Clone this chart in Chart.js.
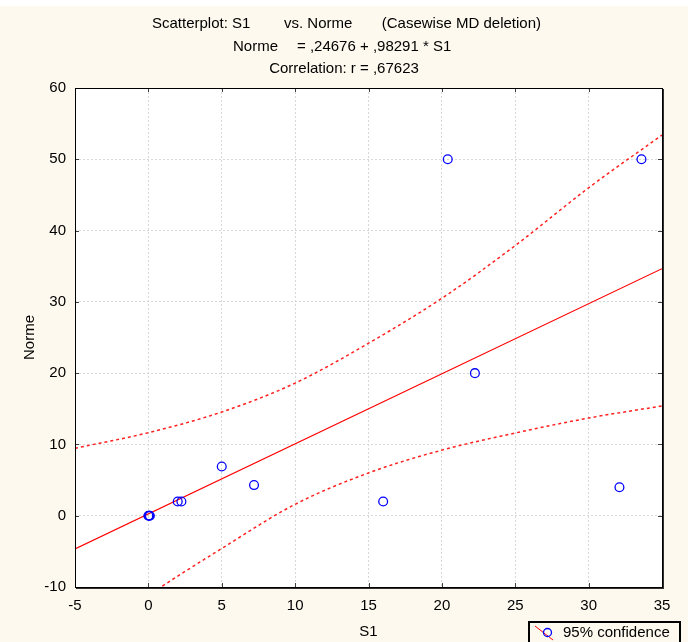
<!DOCTYPE html>
<html>
<head>
<meta charset="utf-8">
<script src="https://cdn.jsdelivr.net/npm/chart.js@4.4.1/dist/chart.umd.min.js"></script>
<style>
html,body{margin:0;padding:0;background:#ffffff;}
#c{display:block;}
</style>
</head>
<body>
<canvas id="c" width="688" height="642"></canvas>
<script>
// ---- data ----
const pointsX = [0, 0.05, 0.1, 2.0, 2.25, 5.0, 7.2, 16.0, 20.4, 22.25, 32.1, 33.6];
const pointsY = [0, 0, 0, 2, 2, 6.9, 4.3, 2, 50, 20, 4, 50];

const fitX = [-5, 35];
const fitY = [-4.67, 34.65];

const bandX = [-5, 0, 5, 10, 15, 20, 25, 30, 35];
const upperY = [9.46, 11.65, 14.55, 18.6, 24.2, 30.5, 37.9, 46.0, 53.4];
const lowerY = [-18.8, -11.2, -4.6, 1.6, 6.0, 9.2, 11.6, 13.7, 15.4];

const xTicks = [-5, 0, 5, 10, 15, 20, 25, 30, 35];
const yTicks = [-10, 0, 10, 20, 30, 40, 50, 60];

const titleLine1a = "Scatterplot: S1";
const titleLine1b = "vs. Norme";
const titleLine1c = "(Casewise MD deletion)";
const titleLine2a = "Norme";
const titleLine2b = "= ,24676 + ,98291 * S1";
const titleLine3 = "Correlation: r = ,67623";
const xTitle = "S1";
const yTitle = "Norme";
const legendText = "95% confidence";

const FONT = "'Liberation Sans', Arial, sans-serif";
const zip = (xs, ys) => xs.map((x, i) => ({x: x, y: ys[i]}));

const decor = {
  id: 'decor',
  beforeDraw(chart) {
    const ctx = chart.ctx, a = chart.chartArea;
    ctx.save();
    ctx.fillStyle = '#ffffff';
    ctx.fillRect(0, 0, chart.width, chart.height);
    ctx.fillStyle = '#fdf9ee';
    ctx.fillRect(0, 6, chart.width, chart.height - 6);
    ctx.fillStyle = '#ffffff';
    ctx.fillRect(a.left, a.top, a.right - a.left, a.bottom - a.top);
    ctx.restore();
  },
  afterDraw(chart) {
    const ctx = chart.ctx, a = chart.chartArea;
    const xs = chart.scales.x, ys = chart.scales.y;
    ctx.save();
    // inner ticks
    ctx.strokeStyle = '#404040';
    ctx.lineWidth = 1;
    ctx.beginPath();
    xTicks.forEach(v => {
      const px = Math.round(xs.getPixelForValue(v)) + 0.5;
      ctx.moveTo(px, a.bottom); ctx.lineTo(px, a.bottom - 4);
      ctx.moveTo(px, a.top); ctx.lineTo(px, a.top + 4);
    });
    yTicks.forEach(v => {
      const py = Math.round(ys.getPixelForValue(v)) + 0.5;
      ctx.moveTo(a.left, py); ctx.lineTo(a.left + 4, py);
      ctx.moveTo(a.right, py); ctx.lineTo(a.right - 4, py);
    });
    ctx.stroke();
    // frame
    ctx.strokeStyle = '#000000';
    ctx.lineWidth = 1;
    ctx.strokeRect(a.left + 0.5, a.top + 0.5, a.right - a.left, a.bottom - a.top);
    ctx.strokeStyle = '#303030';
    ctx.beginPath();
    ctx.moveTo(a.right + 1.5, a.top + 1); ctx.lineTo(a.right + 1.5, a.bottom + 2);
    ctx.moveTo(a.left + 1, a.bottom + 1.5); ctx.lineTo(a.right + 2, a.bottom + 1.5);
    ctx.stroke();

    // titles
    ctx.fillStyle = '#000000';
    ctx.font = '15px ' + FONT;
    ctx.textBaseline = 'middle';
    ctx.textAlign = 'left';
    ctx.fillText(titleLine1a, 152, 24);
    ctx.fillText(titleLine1b, 284, 24);
    ctx.textAlign = 'right';
    ctx.fillText(titleLine1c, 541, 24);
    ctx.textAlign = 'left';
    ctx.fillText(titleLine2a, 233, 47);
    ctx.fillText(titleLine2b, 297, 47);
    ctx.textAlign = 'center';
    ctx.fillText(titleLine3, 344, 69);

    // axis titles
    ctx.fillText(xTitle, (a.left + a.right) / 2, 632);
    ctx.save();
    ctx.translate(30, (a.top + a.bottom) / 2);
    ctx.rotate(-Math.PI / 2);
    ctx.fillText(yTitle, 0, 0);
    ctx.restore();

    // legend
    ctx.strokeStyle = '#000000';
    ctx.lineWidth = 2;
    ctx.strokeRect(529, 622, 151, 26);
    ctx.strokeStyle = '#ff0000';
    ctx.lineWidth = 1;
    ctx.beginPath();
    ctx.moveTo(535, 626); ctx.lineTo(553, 640);
    ctx.stroke();
    ctx.strokeStyle = '#0000ff';
    ctx.lineWidth = 1.3;
    ctx.beginPath();
    ctx.arc(547.5, 632.5, 4, 0, Math.PI * 2);
    ctx.stroke();
    ctx.fillStyle = '#000000';
    ctx.textAlign = 'left';
    ctx.fillText(legendText, 563, 633);
    ctx.restore();
  }
};

new Chart(document.getElementById('c'), {
  type: 'scatter',
  data: {
    datasets: [
      {
        label: 'points',
        data: zip(pointsX, pointsY),
        showLine: false,
        pointRadius: 4.4,
        pointBorderWidth: 1.3,
        borderColor: '#0000ff',
        backgroundColor: 'rgba(0,0,0,0)',
        pointBackgroundColor: 'rgba(0,0,0,0)',
        order: 0
      },
      {
        label: 'fit',
        data: zip(fitX, fitY),
        showLine: true,
        pointRadius: 0,
        borderColor: '#ff0000',
        borderWidth: 1.2,
        order: 1
      },
      {
        label: 'upper',
        data: zip(bandX, upperY),
        showLine: true,
        pointRadius: 0,
        borderColor: '#ff2020',
        borderWidth: 1.5,
        borderDash: [3, 3],
        cubicInterpolationMode: 'monotone',
        order: 2
      },
      {
        label: 'lower',
        data: zip(bandX, lowerY),
        showLine: true,
        pointRadius: 0,
        borderColor: '#ff2020',
        borderWidth: 1.5,
        borderDash: [3, 3],
        cubicInterpolationMode: 'monotone',
        order: 3
      }
    ]
  },
  options: {
    responsive: false,
    animation: false,
    events: [],
    layout: { padding: { top: 88, left: 0, right: 26, bottom: 0 } },
    plugins: { legend: { display: false }, tooltip: { enabled: false }, title: { display: false } },
    scales: {
      x: {
        type: 'linear',
        min: -5, max: 35,
        afterBuildTicks: s => { s.ticks = xTicks.map(v => ({value: v})); },
        afterFit: s => { s.height = 55; },
        ticks: { color: '#000', font: { size: 15, family: FONT }, padding: 10, maxRotation: 0 },
        grid: { color: '#d8d8d8', drawTicks: false, lineWidth: 1 },
        border: { display: false, dash: [2, 2] }
      },
      y: {
        type: 'linear',
        min: -10, max: 60,
        afterBuildTicks: s => { s.ticks = yTicks.map(v => ({value: v})); },
        afterFit: s => { s.width = 75; },
        ticks: { color: '#000', font: { size: 15, family: FONT }, padding: 9 },
        grid: { color: '#d8d8d8', drawTicks: false, lineWidth: 1 },
        border: { display: false, dash: [2, 2] }
      }
    }
  },
  plugins: [decor]
});
</script>
</body>
</html>
